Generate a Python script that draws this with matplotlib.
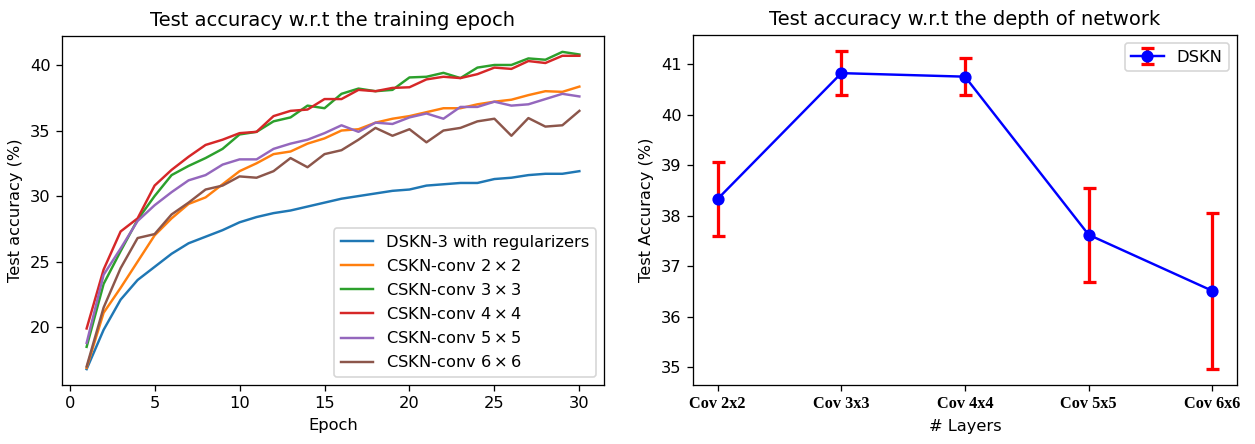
import matplotlib
matplotlib.use("Agg")
import matplotlib.pyplot as plt

epochs = list(range(1, 31))
dskn3 = [16.8, 19.8, 22.1, 23.6, 24.6, 25.6, 26.4, 26.9, 27.4, 28.0,
         28.4, 28.7, 28.9, 29.2, 29.5, 29.8, 30.0, 30.2, 30.4, 30.5,
         30.8, 30.9, 31.0, 31.0, 31.3, 31.4, 31.6, 31.7, 31.7, 31.9]
conv2 = [16.9, 21.1, 23.0, 25.0, 27.0, 28.3, 29.4, 29.9, 30.9, 31.9,
         32.5, 33.2, 33.4, 34.0, 34.4, 35.0, 35.1, 35.6, 35.9, 36.1,
         36.4, 36.7, 36.7, 37.0, 37.2, 37.35, 37.7, 38.0, 37.95, 38.35]
conv3 = [18.5, 23.3, 25.8, 28.2, 30.0, 31.6, 32.3, 32.9, 33.6, 34.7,
         34.9, 35.7, 36.0, 36.9, 36.7, 37.8, 38.2, 38.0, 38.1, 39.05,
         39.1, 39.4, 39.0, 39.8, 40.0, 40.0, 40.5, 40.4, 41.0, 40.8]
conv4 = [19.9, 24.4, 27.3, 28.3, 30.8, 32.0, 33.0, 33.9, 34.3, 34.8,
         34.9, 36.1, 36.5, 36.6, 37.4, 37.4, 38.1, 38.0, 38.25, 38.3,
         38.9, 39.1, 39.0, 39.3, 39.8, 39.7, 40.3, 40.15, 40.7, 40.7]
conv5 = [18.8, 24.0, 26.0, 28.1, 29.3, 30.3, 31.2, 31.6, 32.4, 32.8,
         32.8, 33.6, 34.0, 34.3, 34.8, 35.4, 34.9, 35.6, 35.5, 36.0,
         36.3, 35.9, 36.8, 36.8, 37.2, 36.9, 37.0, 37.4, 37.8, 37.6]
conv6 = [17.0, 21.5, 24.5, 26.8, 27.1, 28.6, 29.5, 30.5, 30.8, 31.5,
         31.4, 31.9, 32.9, 32.2, 33.2, 33.5, 34.3, 35.2, 34.6, 35.1,
         34.1, 35.0, 35.2, 35.7, 35.9, 34.6, 35.95, 35.3, 35.4, 36.5]
series_labels = ["DSKN-3 with regularizers",
                 r"CSKN-conv $2\times2$", r"CSKN-conv $3\times3$",
                 r"CSKN-conv $4\times4$", r"CSKN-conv $5\times5$",
                 r"CSKN-conv $6\times6$"]

depth_labels = ["Cov 2x2", "Cov 3x3", "Cov 4x4", "Cov 5x5", "Cov 6x6"]
depth_acc = [38.33, 40.82, 40.75, 37.62, 36.51]
depth_err = [0.73, 0.44, 0.36, 0.93, 1.55]

DPI = 117
fig = plt.figure(figsize=(1255/DPI, 444/DPI), dpi=DPI)
ax1 = fig.add_axes([62/1255, 1-385/444, 542/1255, 349/444])
ax2 = fig.add_axes([693/1255, 1-385/444, 544/1255, 350/444])

for s, lab in zip([dskn3, conv2, conv3, conv4, conv5, conv6], series_labels):
    ax1.plot(epochs, s, label=lab, linewidth=1.5)
ax1.set_title("Test accuracy w.r.t the training epoch", fontsize=12)
ax1.set_xlabel("Epoch", fontsize=10)
ax1.set_ylabel("Test accuracy (%)", fontsize=10)
ax1.legend(loc="lower right", fontsize=10)

xs = list(range(len(depth_labels)))
ax2.errorbar(xs, depth_acc, yerr=depth_err, color="blue", ecolor="red",
             marker="o", markersize=6.5, linewidth=1.5, elinewidth=2,
             capsize=4, capthick=2, label="DSKN")
ax2.set_xticks(xs)
ax2.set_xticklabels(depth_labels, fontfamily="Liberation Serif",
                    fontweight="bold", fontsize=10)
ax2.set_title("Test accuracy w.r.t the depth of network", fontsize=12)
ax2.set_xlabel("# Layers", fontsize=10)
ax2.set_ylabel("Test Accuracy (%)", fontsize=10)
ax2.legend(loc="upper right", fontsize=10)

fig.savefig("out.png", dpi=DPI)
